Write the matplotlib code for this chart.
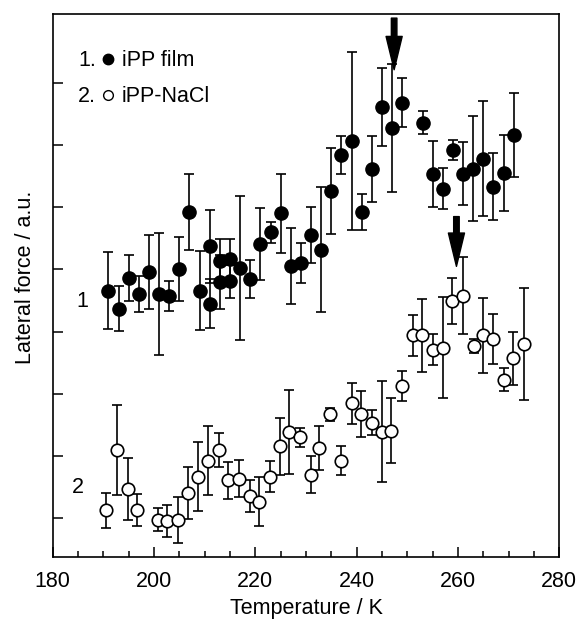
import matplotlib.pyplot as plt
import numpy as np

plt.rcParams['font.family'] = ['Liberation Sans', 'DejaVu Sans']

# series 1: iPP film (filled circles)
film_T = [191, 193, 195, 197, 199, 201, 203, 205, 207, 209, 211, 211, 213, 213,
          215, 215, 217, 219, 221, 223, 225, 227, 229, 231, 233, 235, 237, 239,
          241, 243, 245, 247, 249, 253, 255, 257, 259, 261, 263, 265, 267, 269, 271]
film_y = [3.66, 3.37, 3.87, 3.60, 3.96, 3.60, 3.58, 4.01, 4.93, 3.66, 4.37, 3.45, 4.14, 3.80,
          4.17, 3.81, 4.02, 3.85, 4.41, 4.60, 4.90, 4.06, 4.11, 4.56, 4.32, 5.26, 5.84, 6.07,
          4.93, 5.62, 6.61, 6.28, 6.68, 6.36, 5.54, 5.30, 5.92, 5.54, 5.62, 5.78, 5.33, 5.55, 6.16]
film_err = [0.62, 0.36, 0.37, 0.29, 0.60, 0.98, 0.24, 0.51, 0.61, 0.63, 0.58, 0.39, 0.35, 0.43,
            0.32, 0.27, 1.16, 0.31, 0.58, 0.17, 0.63, 0.61, 0.32, 0.45, 1.01, 0.69, 0.30, 1.43,
            0.29, 0.53, 0.63, 1.03, 0.39, 0.18, 0.53, 0.33, 0.16, 0.51, 0.84, 0.92, 0.54, 0.61, 0.67]

# series 2: iPP-NaCl (open circles)
nacl_T = [190.5, 192.7, 194.8, 196.6, 200.7, 202.5, 204.7, 206.8, 208.6, 210.7, 212.9,
          214.7, 216.8, 218.9, 220.7, 222.8, 224.8, 226.6, 228.8, 230.9, 232.6, 234.8,
          236.9, 239.0, 240.8, 243.0, 245.0, 246.8, 249.0, 251.1, 252.9, 255.0, 257.1,
          258.9, 261.0, 263.1, 264.9, 267.0, 269.1, 270.9, 273.0]
nacl_y = [0.13, 1.10, 0.47, 0.13, -0.02, -0.04, -0.02, 0.41, 0.67, 0.93, 1.10,
          0.61, 0.64, 0.36, 0.27, 0.67, 1.16, 1.39, 1.30, 0.70, 1.13, 1.67,
          0.93, 1.85, 1.67, 1.54, 1.39, 1.41, 2.13, 2.94, 2.94, 2.71, 2.74,
          3.49, 3.58, 2.77, 2.94, 2.88, 2.23, 2.57, 2.80]
nacl_err = [0.28, 0.72, 0.50, 0.26, 0.18, 0.26, 0.37, 0.42, 0.55, 0.56, 0.27,
            0.30, 0.30, 0.26, 0.39, 0.25, 0.46, 0.67, 0.15, 0.30, 0.36, 0.10,
            0.23, 0.33, 0.37, 0.20, 0.81, 0.52, 0.24, 0.33, 0.59, 0.25, 0.81,
            0.37, 0.62, 0.11, 0.60, 0.40, 0.19, 0.42, 0.90]

# transition arrows
arrow_T = [247.4, 259.7]
arrow_tail = [8.04, 4.85]
arrow_tip = [7.21, 4.05]

fig = plt.figure(figsize=(5.77, 6.2), dpi=100)
ax = fig.add_axes([0.0913, 0.1011, 0.8780, 0.8763])

ax.errorbar(film_T, film_y, yerr=film_err, fmt='o', color='black', ms=9.5,
            ecolor='black', elinewidth=1.2, capsize=3.5, capthick=1.2)
ax.errorbar(nacl_T, nacl_y, yerr=nacl_err, fmt='o', mfc='white', mec='black', mew=1.2,
            ms=9, ecolor='black', elinewidth=1.2, capsize=3.5, capthick=1.2)

for t, a, b in zip(arrow_T, arrow_tail, arrow_tip):
    ax.annotate('', xy=(t, b), xytext=(t, a),
                arrowprops=dict(arrowstyle='simple,head_length=1.2,head_width=0.58,tail_width=0.2',
                                color='black', shrinkA=0, shrinkB=0, mutation_scale=20))

# curve labels
ax.text(185.8, 3.49, '1', fontsize=15.5, ha='center', va='center')
ax.text(185.0, 0.50, '2', fontsize=15.5, ha='center', va='center')

# legend drawn by hand
ax.text(0.050, 0.915, '1.', transform=ax.transAxes, fontsize=15.5, va='center')
ax.plot([0.110], [0.917], 'o', color='black', ms=7.5, transform=ax.transAxes)
ax.text(0.137, 0.915, 'iPP film', transform=ax.transAxes, fontsize=15.5, va='center')
ax.text(0.050, 0.849, '2.', transform=ax.transAxes, fontsize=15.5, va='center')
ax.plot([0.110], [0.851], 'o', mfc='white', mec='black', mew=1.0, ms=7, transform=ax.transAxes)
ax.text(0.137, 0.849, 'iPP-NaCl', transform=ax.transAxes, fontsize=15.5, va='center')

ax.set_xlim(180, 280)
ax.set_ylim(-0.626, 8.106)
ax.set_xticks(np.arange(180, 281, 20))
ax.set_xticks(np.arange(180, 281, 5), minor=True)
ax.set_yticks(np.arange(0, 8))
ax.set_yticklabels([])
ax.tick_params(axis='both', which='major', direction='in', length=7, width=1.1, labelsize=15.5, pad=10)
ax.tick_params(axis='x', which='minor', direction='in', length=4, width=1.1)
for s in ax.spines.values():
    s.set_linewidth(1.2)

ax.set_xlabel('Temperature / K', fontsize=15.5)
ax.set_ylabel('Lateral force / a.u.', fontsize=15.5)
ax.xaxis.set_label_coords(0.5, -0.075)
ax.yaxis.set_label_coords(-0.033, 0.516)

plt.savefig('out.png', dpi=100)
